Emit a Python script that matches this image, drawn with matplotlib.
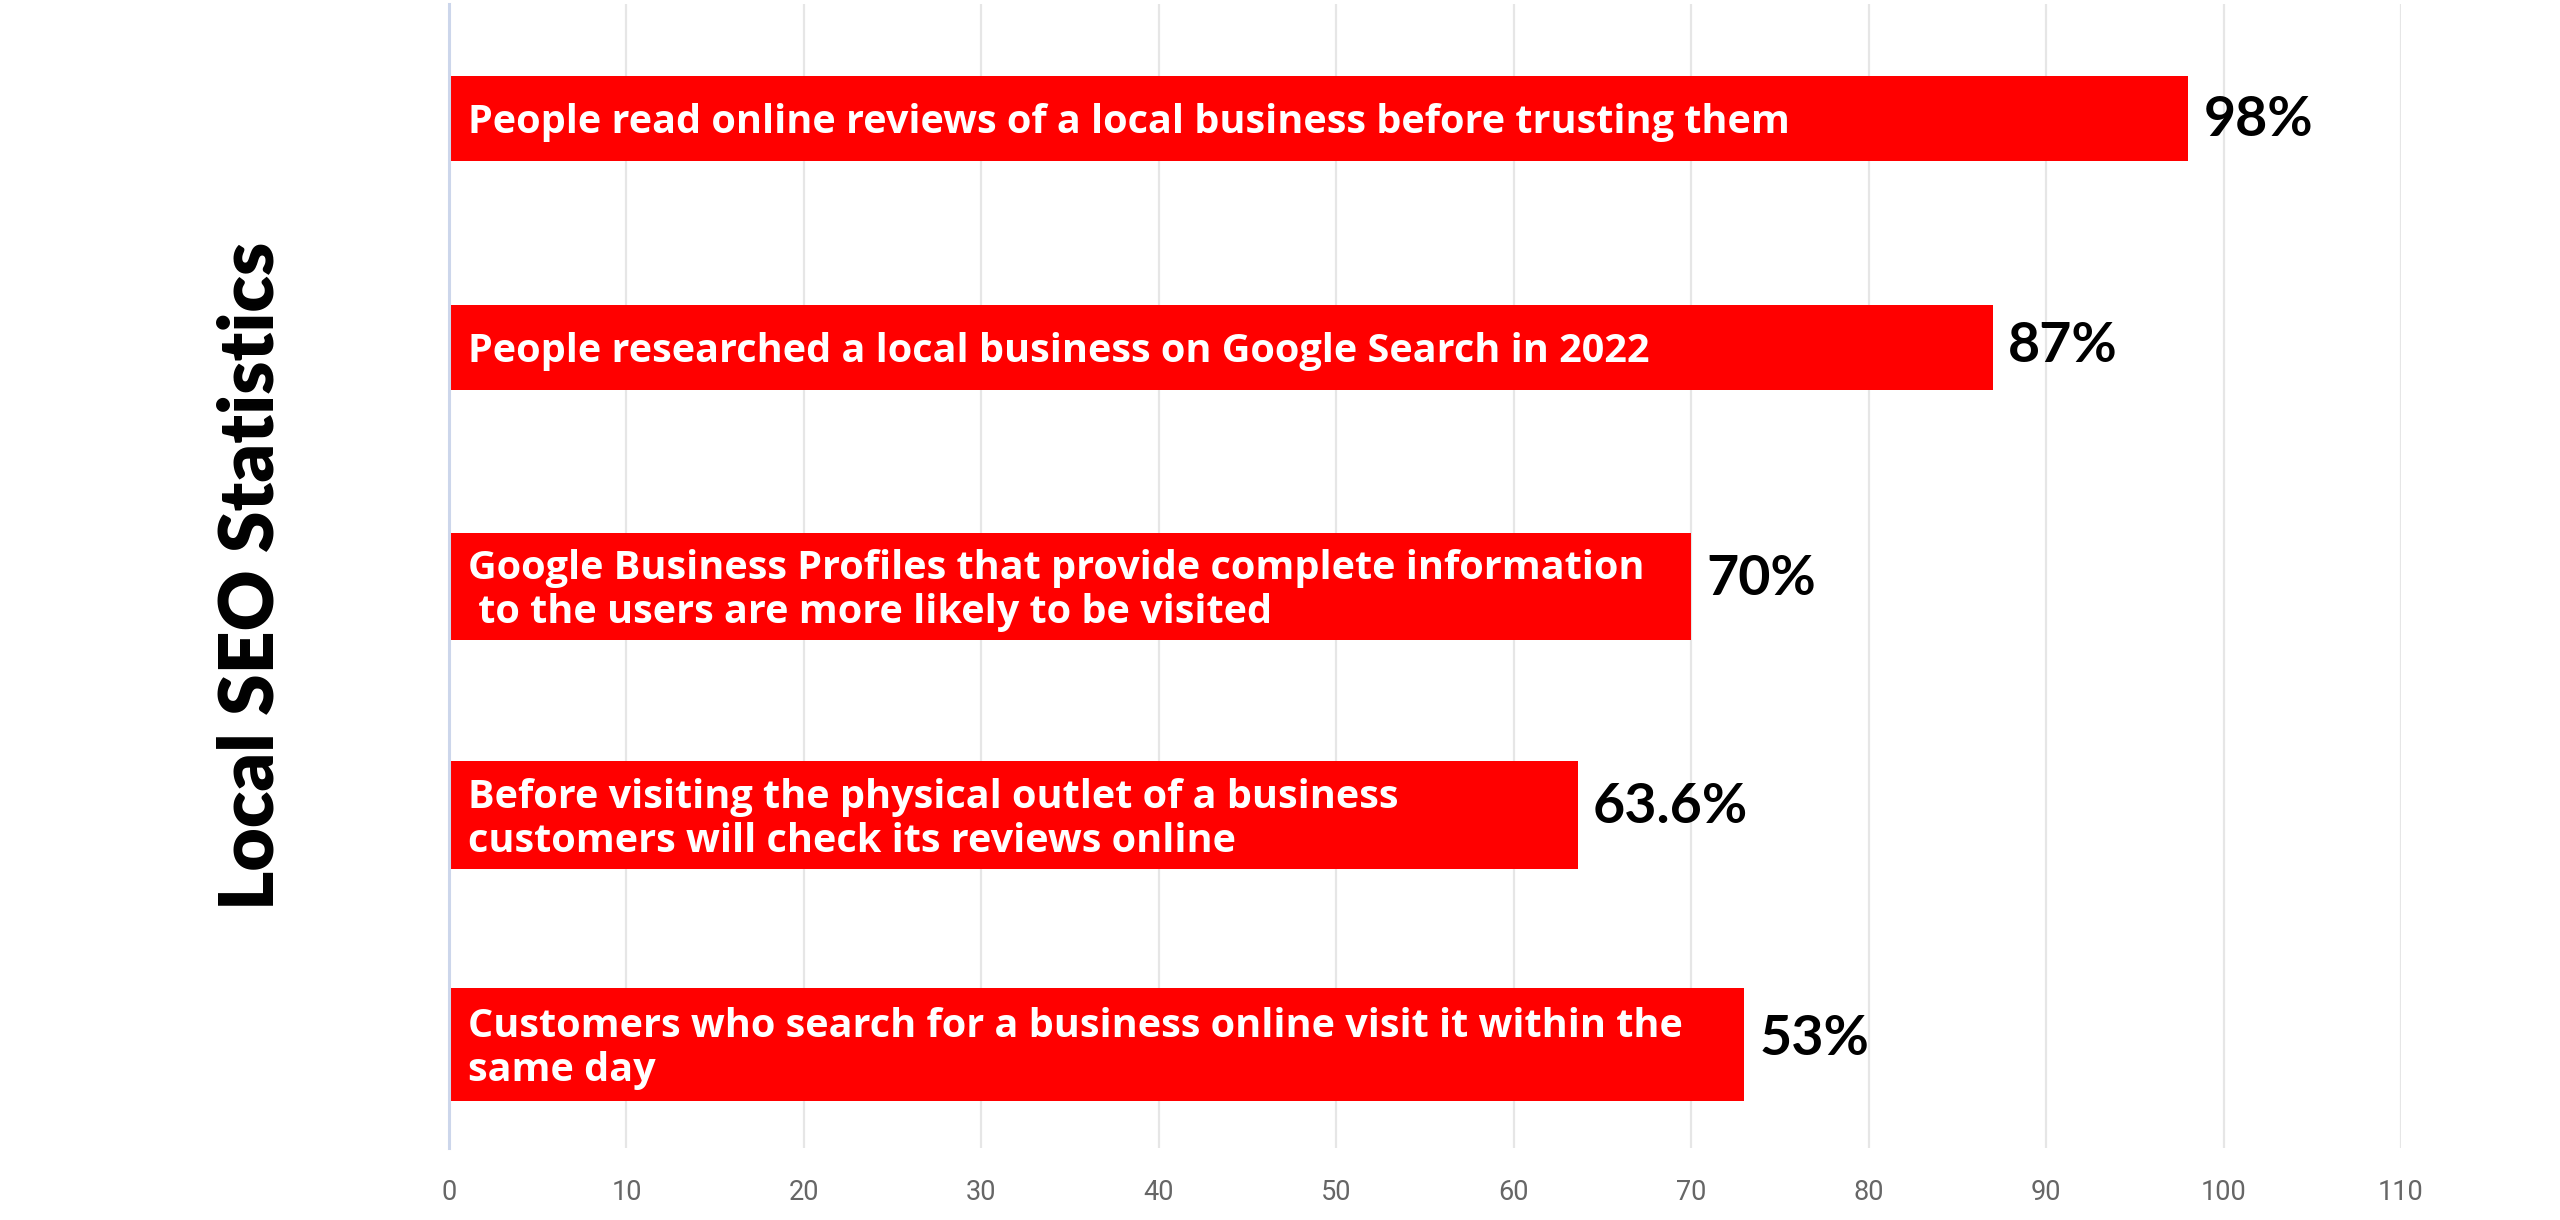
import matplotlib
matplotlib.use("Agg")
import matplotlib.pyplot as plt

# ---- data ----
statements = [
    "People read online reviews of a local business before trusting them",
    "People researched a local business on Google Search in 2022",
    "Google Business Profiles that provide complete information\n to the users are more likely to be visited",
    "Before visiting the physical outlet of a business\ncustomers will check its reviews online",
    "Customers who search for a business online visit it within the\nsame day",
]
bar_values = [98, 87, 70, 63.6, 73]
value_labels = ["98%", "87%", "70%", "63.6%", "53%"]
x_ticks = [0, 10, 20, 30, 40, 50, 60, 70, 80, 90, 100, 110]
axis_title = "Local SEO Statistics"

# ---- style ----
bar_heights = [0.372, 0.372, 0.468, 0.472, 0.494]
bar_shift = [0.0, 0.0, 0.045, 0.045, 0.048]
label_lift = [-1, 1, 5, 6, 4]
RED = "#ff0000"

fig = plt.figure(figsize=(25.6, 12.2), dpi=100)
ax = fig.add_axes([449 / 2560, 72 / 1220, (2401 - 449) / 2560, (1216 - 72) / 1220])

ypos = [i + s for i, s in enumerate(bar_shift)]
ax.barh(ypos, bar_values, height=bar_heights, color=RED, zorder=3)

for y, v, txt, lab, lift in zip(ypos, bar_values, statements, value_labels, label_lift):
    ax.annotate(txt, xy=(0, y), xytext=(14, -3), textcoords="offset points",
                ha="left", va="center", color="white", fontsize=28.5,
                fontfamily="Open Sans", fontweight="bold", linespacing=1.15, zorder=4)
    ax.annotate(lab, xy=(v, y), xytext=(11, lift), textcoords="offset points",
                ha="left", va="center", color="black", fontsize=40,
                fontfamily="Lato", fontweight="bold", zorder=4)

ax.set_xlim(0, 110)
ax.set_ylim(4.5, -0.5)
ax.set_xticks(x_ticks)
ax.set_xticklabels([str(t) for t in x_ticks], fontsize=19.5, color="#666666",
                   fontfamily="Roboto")
ax.set_yticks([])
ax.tick_params(axis="x", length=0, pad=22)
ax.grid(axis="x", color="#e6e6e6", linewidth=1.6, zorder=0)
ax.set_axisbelow(True)
for sp in ["top", "right", "bottom"]:
    ax.spines[sp].set_visible(False)
ax.spines["left"].set_color("#ccd6eb")
ax.spines["left"].set_linewidth(2.2)
ax.spines["left"].set_zorder(5)

fig.text(252 / 2560, 644 / 1220, axis_title, rotation=90, ha="center", va="center",
         fontsize=54, fontfamily="Lato", fontweight="heavy", color="black")

fig.savefig("out.png", dpi=100, facecolor="white")
